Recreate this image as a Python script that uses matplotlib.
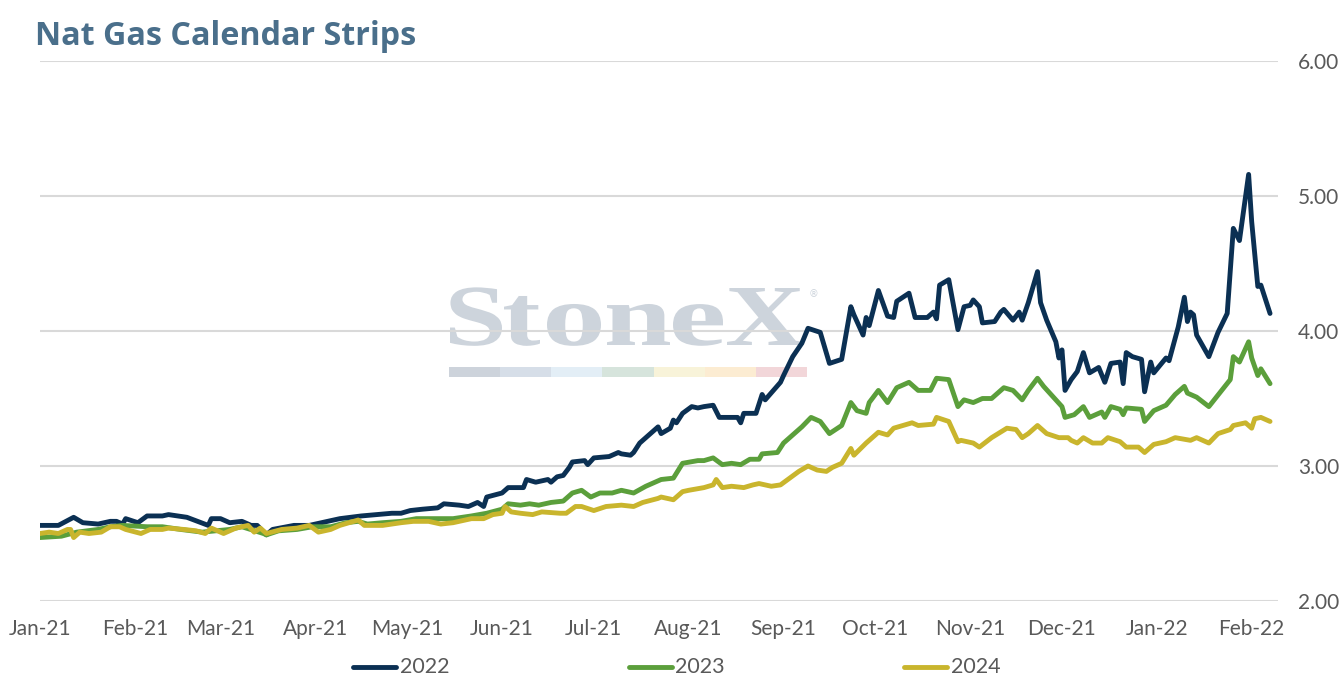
import matplotlib
matplotlib.use("Agg")
import matplotlib.pyplot as plt
import matplotlib.dates as mdates
import matplotlib.ticker as mticker
import pandas as pd
from matplotlib.textpath import TextPath
from matplotlib.patches import PathPatch, Rectangle
from matplotlib.font_manager import FontProperties
from matplotlib.transforms import Affine2D
from matplotlib.lines import Line2D

# ---------------- data ----------------
title = "Nat Gas Calendar Strips"
series_names = ["2022", "2023", "2024"]
series_colors = ["#0b3053", "#5b9f3b", "#c9b52d"]
start_date = "2021-01-01"

# days since start_date
days_2022 = [0, 6, 11, 14, 19, 23, 25, 27, 28, 32,
             35, 40, 42, 48, 55, 56, 59, 62, 66, 69,
             71, 74, 76, 83, 88, 92, 98, 105, 110, 115,
             118, 121, 125, 130, 132, 137, 140, 143, 145, 146,
             151, 153, 158, 159, 162, 166, 167, 169, 171, 173,
             174, 178, 179, 181, 186, 189, 190, 193, 194, 196,
             199, 202, 203, 206, 207, 208, 210, 213, 215, 217,
             220, 222, 224, 228, 229, 230, 234, 236, 237, 242,
             243, 246, 249, 251, 255, 258, 262, 265, 266, 269,
             270, 271, 274, 277, 279, 280, 284, 286, 290, 292,
             293, 294, 297, 300, 302, 304, 305, 307, 308, 312,
             314, 315, 318, 320, 321, 323, 326, 327, 329, 332,
             333, 334, 335, 337, 339, 341, 343, 346, 348, 350,
             353, 354, 355, 357, 360, 361, 363, 364, 368, 369,
             372, 374, 375, 376, 377, 378, 382, 385, 388, 390,
             392, 395, 396, 398, 399, 402]
vals_2022 = [2.56, 2.56, 2.62, 2.58, 2.57, 2.59, 2.59, 2.57, 2.61, 2.58,
             2.63, 2.63, 2.64, 2.62, 2.56, 2.61, 2.61, 2.58, 2.59, 2.56,
             2.56, 2.49, 2.53, 2.56, 2.56, 2.58, 2.61, 2.63, 2.64, 2.65,
             2.65, 2.67, 2.68, 2.69, 2.72, 2.71, 2.70, 2.73, 2.70, 2.77,
             2.80, 2.84, 2.84, 2.90, 2.88, 2.90, 2.88, 2.92, 2.93, 2.99,
             3.03, 3.04, 3.01, 3.06, 3.07, 3.10, 3.09, 3.08, 3.10, 3.17,
             3.23, 3.29, 3.24, 3.28, 3.34, 3.32, 3.39, 3.44, 3.43, 3.44,
             3.45, 3.36, 3.36, 3.36, 3.32, 3.39, 3.39, 3.53, 3.49, 3.62,
             3.67, 3.81, 3.91, 4.02, 3.99, 3.76, 3.79, 4.18, 4.12, 3.97,
             4.10, 4.04, 4.30, 4.11, 4.10, 4.22, 4.28, 4.10, 4.10, 4.14,
             4.09, 4.34, 4.38, 4.01, 4.18, 4.19, 4.23, 4.18, 4.06, 4.07,
             4.14, 4.16, 4.08, 4.14, 4.08, 4.21, 4.44, 4.21, 4.08, 3.92,
             3.80, 3.86, 3.56, 3.64, 3.70, 3.84, 3.69, 3.73, 3.62, 3.76,
             3.77, 3.61, 3.84, 3.81, 3.79, 3.55, 3.77, 3.69, 3.80, 3.78,
             4.03, 4.25, 4.07, 4.14, 4.12, 3.97, 3.81, 3.99, 4.13, 4.76,
             4.67, 5.16, 4.81, 4.33, 4.34, 4.13]

days_2023 = [0, 7, 12, 19, 23, 27, 35, 40, 46, 53,
             62, 66, 73, 74, 78, 84, 89, 95, 100, 104,
             107, 112, 118, 123, 132,
             135, 141, 146, 151, 153, 157, 160, 163, 167, 171,
             174, 177, 180, 183, 187, 190, 194, 198, 203, 207,
             210, 215, 217, 220, 223, 226, 229, 232, 235, 236,
             241, 243, 246, 249, 252, 255,
             258, 262, 265, 267, 270, 271, 274, 277, 280, 284,
             287, 291, 293, 297, 300, 302, 305, 308, 311, 315,
             318, 321, 323, 326, 328, 332, 334,
             335, 338, 341, 343, 347, 348, 350, 353, 354, 355,
             360, 361, 364, 366, 368, 371, 374, 375, 378, 382,
             389, 390, 392, 395, 396, 398, 399, 402]
vals_2023 = [2.47, 2.48, 2.51, 2.53, 2.55, 2.56, 2.55, 2.55, 2.53, 2.51,
             2.53, 2.55, 2.50, 2.49, 2.52, 2.53, 2.55, 2.55, 2.58, 2.59,
             2.57, 2.58, 2.59, 2.61, 2.61,
             2.61, 2.63, 2.65, 2.68, 2.72, 2.71, 2.72, 2.71, 2.73, 2.74,
             2.80, 2.82, 2.77, 2.80, 2.80, 2.82, 2.80, 2.85, 2.90, 2.91,
             3.02, 3.04, 3.04, 3.06, 3.01, 3.02, 3.01, 3.05, 3.05, 3.09,
             3.10, 3.17, 3.23, 3.29, 3.36, 3.33,
             3.24, 3.30, 3.47, 3.41, 3.39, 3.47, 3.56, 3.47, 3.58, 3.62,
             3.56, 3.56, 3.65, 3.64, 3.44, 3.49, 3.47, 3.50, 3.50, 3.58,
             3.56, 3.49, 3.56, 3.65, 3.59, 3.49, 3.44,
             3.36, 3.38, 3.44, 3.36, 3.40, 3.36, 3.44, 3.42, 3.38, 3.43,
             3.42, 3.33, 3.41, 3.43, 3.45, 3.53, 3.59, 3.54, 3.51, 3.44,
             3.64, 3.81, 3.77, 3.92, 3.80, 3.67, 3.72, 3.61]

days_2024 = [0, 3, 6, 9, 10, 11, 13, 16, 20, 23,
             26, 28, 33, 36, 40, 42, 47, 51, 54, 56,
             60, 64, 68, 70, 72, 74, 79, 84, 88, 91,
             95, 98, 104, 106, 112, 118, 122, 127, 131, 135,
             141, 145, 148, 151, 152, 154, 157, 161, 164, 170,
             172, 175, 177, 181, 185, 190, 194, 197, 202, 203,
             207, 210, 212, 217, 220, 221, 223, 226, 230, 233,
             235, 239, 242, 245, 248, 251, 254,
             257, 259, 262, 265, 266, 270, 274, 277, 279, 285,
             287, 292, 293, 297, 300, 301, 305, 307, 311, 316,
             319, 321, 323, 326, 329, 333,
             336, 337, 339, 341, 344, 347, 349, 353, 355, 359,
             361, 364, 368, 371, 376, 378, 382, 385, 389, 390,
             394, 396, 397, 399, 402]
vals_2024 = [2.50, 2.51, 2.50, 2.53, 2.53, 2.47, 2.51, 2.50, 2.51, 2.55,
             2.55, 2.53, 2.50, 2.53, 2.53, 2.54, 2.53, 2.52, 2.50, 2.54,
             2.50, 2.54, 2.56, 2.51, 2.54, 2.50, 2.53, 2.54, 2.56, 2.51,
             2.53, 2.56, 2.60, 2.56, 2.56, 2.58, 2.59, 2.59, 2.57, 2.58,
             2.61, 2.61, 2.64, 2.65, 2.70, 2.66, 2.65, 2.64, 2.66, 2.65,
             2.65, 2.70, 2.70, 2.67, 2.70, 2.71, 2.70, 2.73, 2.76, 2.77,
             2.75, 2.81, 2.82, 2.84, 2.86, 2.90, 2.84, 2.85, 2.84, 2.86,
             2.87, 2.85, 2.86, 2.91, 2.96, 3.00, 2.97,
             2.96, 2.99, 3.02, 3.13, 3.08, 3.17, 3.25, 3.23, 3.28, 3.32,
             3.30, 3.31, 3.36, 3.33, 3.18, 3.19, 3.17, 3.14, 3.21, 3.28,
             3.27, 3.21, 3.24, 3.30, 3.24, 3.21,
             3.21, 3.19, 3.17, 3.21, 3.17, 3.17, 3.21, 3.18, 3.14, 3.14,
             3.10, 3.16, 3.18, 3.21, 3.19, 3.21, 3.17, 3.24, 3.27, 3.30,
             3.32, 3.28, 3.35, 3.36, 3.33]

y_ticks = [2.0, 3.0, 4.0, 5.0, 6.0]
x_tick_months = pd.date_range("2021-01-01", "2022-02-01", freq="MS")

# ---------------- figure ----------------
W, H = 1344, 688
fig = plt.figure(figsize=(W / 100, H / 100), dpi=100)
ax = fig.add_axes([40 / W, 1 - 601 / H, (1278 - 40) / W, (601 - 61) / H])
px = Affine2D().scale(1 / 100.0) + fig.dpi_scale_trans  # figure pixels (origin bottom-left)

base = pd.Timestamp(start_date)
def to_dates(d):
    return base + pd.to_timedelta(d, unit="D")

LW = 3.5
all_days = [days_2022, days_2023, days_2024]
all_vals = [vals_2022, vals_2023, vals_2024]
for d, v, c, n in zip(all_days, all_vals, series_colors, series_names):
    ax.plot(to_dates(d), v, color=c, lw=LW, solid_joinstyle="round",
            solid_capstyle="round", zorder=3, label=n)

# axes styling
ax.set_ylim(2.0, 6.0)
x0 = mdates.date2num(base)
ax.set_xlim(x0, x0 + 404.6)
ax.set_yticks(y_ticks)
ax.yaxis.set_major_formatter(mticker.FormatStrFormatter("%.2f"))
ax.yaxis.tick_right()
ax.set_xticks(mdates.date2num(x_tick_months))
ax.xaxis.set_major_formatter(mdates.DateFormatter("%b-%y"))
for s in ax.spines.values():
    s.set_visible(False)
ax.grid(axis="y", color="#d9d9d9", lw=1.5)
ax.set_axisbelow(True)
tick_font = "Lato"
ax.tick_params(axis="y", length=0, pad=14.5, labelsize=15, labelcolor="#595959")
ax.tick_params(axis="x", length=0, pad=13, labelsize=15, labelcolor="#595959")
for lab in ax.get_xticklabels() + ax.get_yticklabels():
    lab.set_family(tick_font)

# watermark (StoneX) drawn in pixel coordinates behind grid
wm_color = "#cdd4dc"
fp = FontProperties(family="Liberation Serif", weight="bold")
letters = "StoneX"
boxes = [(450, 502), (504, 540), (547, 601), (607, 670), (673, 723), (727, 804)]
xh = TextPath((0, 0), "X", size=100, prop=fp).get_extents()
sy = 57.0 / xh.height
baseline = H - 345
for ch, (bx0, bx1) in zip(letters, boxes):
    tp = TextPath((0, 0), ch, size=100, prop=fp)
    ext = tp.get_extents()
    tr = Affine2D().translate(-ext.x0, 0).scale((bx1 - bx0) / ext.width, sy).translate(bx0, baseline)
    patch = PathPatch(tp, transform=tr + px, facecolor=wm_color, edgecolor="none",
                      zorder=0.2, clip_on=False)
    ax.add_patch(patch)
ax.text(813, H - 294, "®", transform=px, fontsize=7, color=wm_color,
        ha="center", va="center", zorder=0.2, family="DejaVu Sans")
bar_colors = ["#cdd3db", "#d6dee8", "#e3eef6", "#d6e4dc", "#f8f3d9", "#fcecd2", "#f2d6d9"]
seg_w = (807 - 449) / len(bar_colors)
for i, bc in enumerate(bar_colors):
    ax.add_patch(Rectangle((449 + i * seg_w, H - 377), seg_w, 10, transform=px,
                           facecolor=bc, edgecolor="none", zorder=0.2, clip_on=False))

# title
fig.text(35 / W, 1 - 45 / H, title, fontsize=23.2, fontweight="bold",
         color="#4a6f8b", family="Open Sans", va="baseline", ha="left")

# legend (manual)
leg_y = H - 667
for i, (n, c) in enumerate(zip(series_names, series_colors)):
    hx = 353 + i * 275.5
    fig.add_artist(Line2D([hx, hx + 43], [leg_y, leg_y], transform=px, color=c,
                          lw=LW, solid_capstyle="round"))
    fig.text((hx + 47) / W, leg_y / H, n, fontsize=15.5, color="#595959",
             family=tick_font, va="center", ha="left")

fig.savefig("out.png", dpi=100)
